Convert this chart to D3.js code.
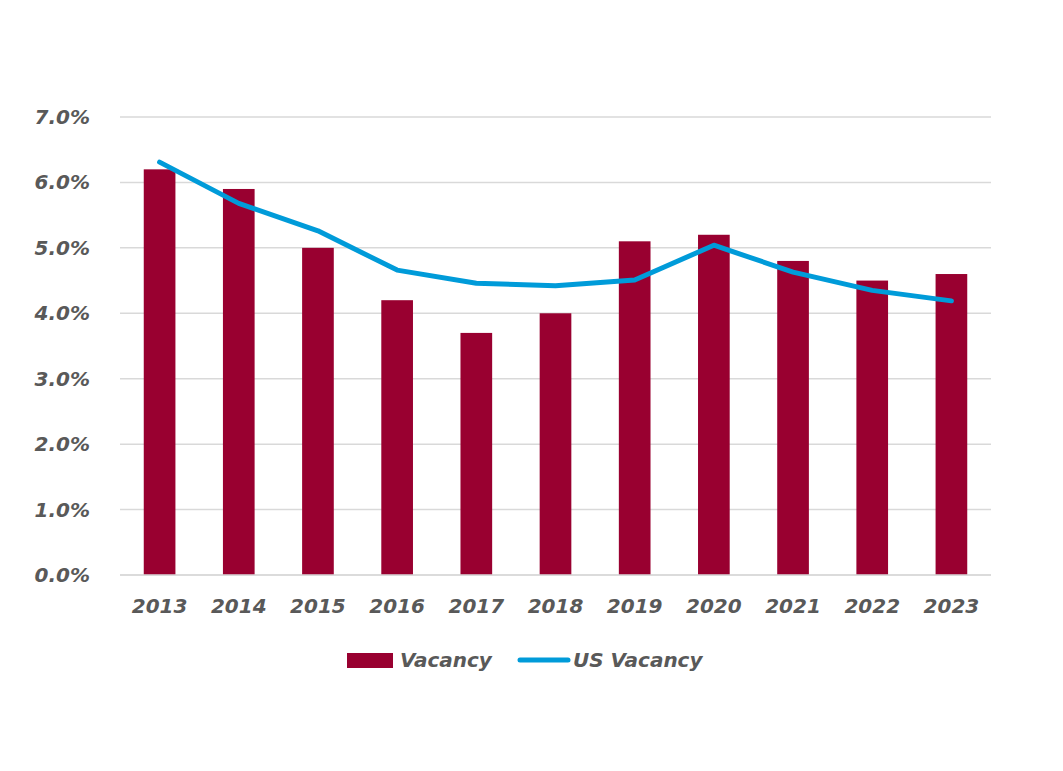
<!DOCTYPE html>
<html><head><meta charset="utf-8">
<script src="https://cdn.jsdelivr.net/npm/d3@7"></script>
<style>body{margin:0;background:#fff}</style>
</head><body>
<svg id="c" width="1063" height="771"></svg>
<script>
const years = ["2013","2014","2015","2016","2017","2018","2019","2020","2021","2022","2023"];
const vacancy = [6.2, 5.9, 5.0, 4.2, 3.7, 4.0, 5.1, 5.2, 4.8, 4.5, 4.6];
const usVacancy = [6.31, 5.68, 5.26, 4.66, 4.46, 4.42, 4.51, 5.04, 4.63, 4.35, 4.19];
const yTicks = [0,1,2,3,4,5,6,7];

const svg = d3.select("#c");
const font = "'DejaVu Sans', sans-serif";
const fs = 20;
const x = d3.scaleBand().domain(years).range([120, 991]).paddingInner(0.6).paddingOuter(0.3);
const y = d3.scaleLinear().domain([0,7]).range([575, 117]);

svg.append("g").selectAll("line").data(yTicks).join("line")
  .attr("x1",120).attr("x2",991).attr("y1",d=>y(d)).attr("y2",d=>y(d))
  .attr("stroke","#d9d9d9").attr("stroke-width",1.5);

svg.append("g").selectAll("text").data(yTicks).join("text")
  .attr("x",90).attr("y",d=>y(d)).attr("dy","0.35em").attr("text-anchor","end")
  .attr("font-family",font).attr("font-weight","bold").attr("font-style","italic")
  .attr("font-size",fs).attr("fill","#595959").text(d=>d.toFixed(1)+"%");

svg.append("g").selectAll("rect").data(vacancy).join("rect")
  .attr("x",(d,i)=>x(years[i])).attr("width",x.bandwidth())
  .attr("y",d=>y(d)).attr("height",d=>y(0)-y(d)).attr("fill","#990030");

svg.append("line").attr("x1",120).attr("x2",991).attr("y1",y(0)).attr("y2",y(0))
  .attr("stroke","#d9d9d9").attr("stroke-width",1.5);

svg.append("g").selectAll("text").data(years).join("text")
  .attr("x",d=>x(d)+x.bandwidth()/2).attr("y",606).attr("dy","0.35em").attr("text-anchor","middle")
  .attr("font-family",font).attr("font-weight","bold").attr("font-style","italic")
  .attr("font-size",fs).attr("fill","#595959").text(d=>d);

const line = d3.line().x((d,i)=>x(years[i])+x.bandwidth()/2).y(d=>y(d));
svg.append("path").datum(usVacancy).attr("d",line).attr("fill","none")
  .attr("stroke","#009bd9").attr("stroke-width",5).attr("stroke-linecap","round").attr("stroke-linejoin","round");

// legend
const lg = svg.append("g");
lg.append("rect").attr("x",347).attr("y",653).attr("width",46).attr("height",15).attr("fill","#990030");
lg.append("text").attr("x",400).attr("y",660).attr("dy","0.35em")
  .attr("font-family",font).attr("font-weight","bold").attr("font-style","italic")
  .attr("font-size",fs).attr("fill","#595959").text("Vacancy");
lg.append("line").attr("x1",520).attr("x2",568).attr("y1",660).attr("y2",660)
  .attr("stroke","#009bd9").attr("stroke-width",5).attr("stroke-linecap","round");
lg.append("text").attr("x",573).attr("y",660).attr("dy","0.35em")
  .attr("font-family",font).attr("font-weight","bold").attr("font-style","italic")
  .attr("font-size",fs).attr("fill","#595959").text("US Vacancy");
</script>
</body></html>
